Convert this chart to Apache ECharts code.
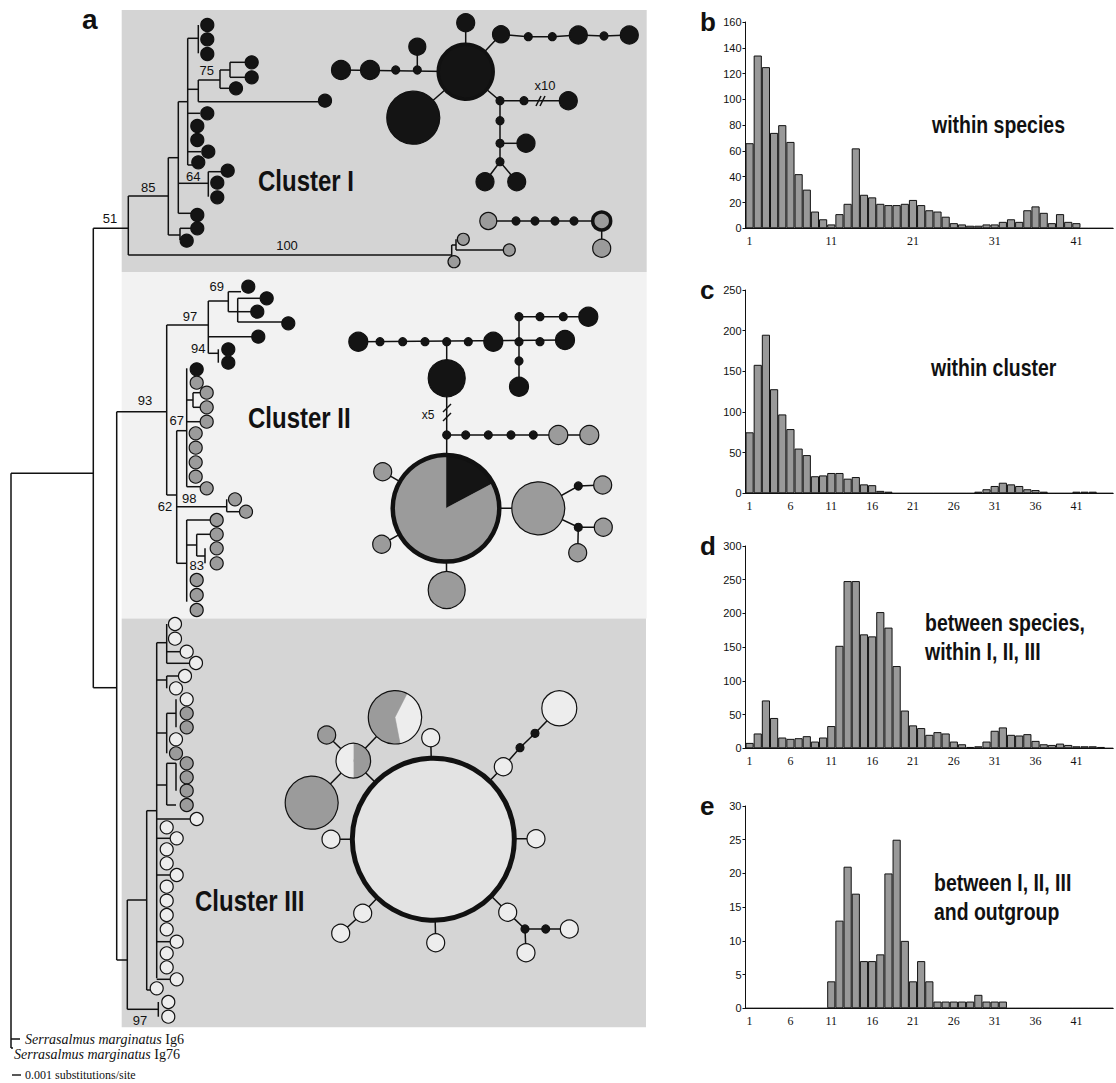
<!DOCTYPE html>
<html><head><meta charset="utf-8">
<script src="https://cdn.jsdelivr.net/npm/echarts@6/dist/echarts.min.js"></script>
<style>html,body{margin:0;padding:0;background:#fff}#c{width:1116px;height:1083px}</style>
</head><body><div id="c"></div>
<script>
// ---------- histogram data ----------
const categories = ['1','2','3','4','5','6','7','8','9','10','11','12','13','14','15','16','17','18','19','20','21','22','23','24','25','26','27','28','29','30','31','32','33','34','35','36','37','38','39','40','41','42','43','44','45'];
const withinSpecies  = [66,134,125,74,80,67,42,30,13,7,3,11,19,62,26,24,19,18,18,19,22,18,14,13,9,4,3,2,2,3,3,5,7,5,14,17,12,4,11,5,4,0,0,0,0];
const withinCluster  = [75,158,195,128,97,79,55,47,21,22,25,25,18,20,11,10,3,2,0,0,0,0,0,0,0,0,0,0,2,5,9,13,11,9,5,4,2,0,0,0,2,2,2,0,0];
const betweenSpecies = [8,22,71,45,16,14,15,18,10,16,33,152,248,248,169,166,202,179,122,56,34,30,20,24,22,10,6,2,3,10,26,31,20,19,21,11,6,5,7,5,3,3,3,2,0];
const betweenOutgroup= [0,0,0,0,0,0,0,0,0,0,4,13,21,17,7,7,8,20,25,10,4,7,4,1,1,1,1,1,2,1,1,1,0,0,0,0,0,0,0,0,0,0,0,0,0];
const yMax  = [160,250,300,30];
const yStep = [20,50,50,5];
const xLabelEvery = [10,5,5,5];
const panelLetters = ['b','c','d','e'];
const captions = [['within species'],['within cluster'],['between species,','within I, II, III'],['between I, II, III','and outgroup']];

// ---------- tree (diagram units) ----------
const treeSegments = [
 [11,473.3,93.3,473.3],[11,473.3,11,1048],[11,1039,20,1039],[11,1048,13,1048],
 [93.3,228.3,93.3,687.7],[93.3,228.3,128.3,228.3],[93.3,687.7,116.7,687.7],
 [128.3,196,128.3,255],[128.3,196,168.3,196],[128.3,255,451.7,255],
 [168.3,157.7,168.3,235],[168.3,157.7,178.3,157.7],[178.3,101.7,178.3,213.3],[178.3,101.7,187.7,101.7],
 [187.7,38.3,187.7,165],[187.7,38.3,198.3,38.3],[198.3,25,198.3,53.3],
 [187.7,89.3,198.3,89.3],[198.3,80,198.3,101.7],[198.3,80,220,80],[220,70,220,88.3],[220,70,230,70],
 [230,62.3,230,77.3],[230,62.3,246,62.3],[230,77.3,246,77.3],[220,88.3,230,88.3],[198.3,101.7,318,101.7],
 [187.7,113.3,200,113.3],[187.7,151.7,201,151.7],[187.7,165,192,165],
 [178.3,183.3,208.3,183.3],[208.3,171.7,208.3,196.7],[208.3,171.7,221,171.7],
 [178.3,213.3,191,213.3],[168.3,235,180,235],[180,228.3,180,240],[180,228.3,191,228.3],
 [451.7,245,451.7,261.7],[451.7,245,456,245],[456,239.3,456,250],[456,250,503,250],
 [116.7,411.7,116.7,960],[116.7,411.7,166.7,411.7],[166.7,325,166.7,495],[166.7,325,208.3,325],
 [208.3,301,208.3,353.3],[208.3,301,228.3,301],[228.3,291.7,228.3,311.7],[228.3,291.7,241,291.7],
 [228.3,311.7,237.7,311.7],[237.7,298.3,237.7,322],[237.7,298.3,260,298.3],[237.7,311.7,251,311.7],[237.7,322,282,322],
 [208.3,336.7,252,336.7],[208.3,353.3,218.3,353.3],[218.3,349.3,218.3,362.7],
 [166.7,495,176.7,495],[176.7,430.7,176.7,563.3],[176.7,430.7,186.7,430.7],[186.7,368.3,186.7,486.7],
 [186.7,400,193,400],[193,392.7,193,407.3],[193,392.7,200,392.7],[193,407.3,200,407.3],
 [186.7,421.7,200,421.7],[186.7,486.7,200,486.7],
 [176.7,506.7,226.7,506.7],[226.7,499.3,226.7,511.7],[226.7,511.7,240,511.7],
 [176.7,563.3,186.7,563.3],[186.7,520,186.7,601.7],[186.7,520,210,520],[186.7,545,196.7,545],
 [196.7,534.3,196.7,556],[196.7,534.3,210,534.3],[196.7,556,205,556],[205,548.3,205,563.3],
 [116.7,960,127.3,960],[127.3,900,127.3,1009.3],[127.3,900,146.7,900],[127.3,1009.3,158.3,1009.3],
 [158.3,1002,158.3,1016.7],[146.7,810.7,146.7,990],[146.7,990,150,990],[146.7,810.7,156.7,810.7],
 [156.7,642.7,156.7,978.3],[156.7,642.7,166.7,642.7],[166.7,624,166.7,663.3],[166.7,651.7,180,651.7],[166.7,663.3,190,663.3],
 [156.7,680,166.7,680],[166.7,676,166.7,688.3],[166.7,676,178,676],
 [156.7,733,166.7,733],[166.7,713.3,166.7,753.3],[166.7,713.3,176,713.3],[176,699.3,176,727.3],
 [156.7,785,166.7,785],[166.7,763.3,166.7,805],[166.7,763.3,176,763.3],[166.7,805,176,805],[176,763.3,176,790.7],
 [156.7,819,190,819],[156.7,838.3,170,838.3],[156.7,875,170,875],[156.7,941.7,170,941.7],[156.7,979.3,170,979.3]
];
const treeTips = [
 [207.3,25,'k'],[207.3,39.3,'k'],[207.3,54,'k'],[251.7,62.3,'k'],[251.7,77.3,'k'],[236,88.3,'k'],[325,100.7,'k'],
 [207.3,113.3,'k'],[197.3,126,'k'],[197.3,140,'k'],[208.3,151.7,'k'],[198.3,162.3,'k'],
 [227.7,170.7,'k'],[217.3,182.7,'k'],[217.3,197.3,'k'],[197.3,215,'k'],[197.3,228.3,'k'],[186.7,240.7,'k'],
 [463.3,239.3,'g'],[454,261.7,'g'],[509.3,250,'g'],
 [248.3,286.7,'k'],[266.7,298.3,'k'],[257.3,311.7,'k'],[288.3,323.3,'k'],[258.3,336.7,'k'],[228.3,349.3,'k'],[228.3,362.7,'k'],[196.7,369.3,'k'],
 [196.7,382.7,'g'],[206.7,392.7,'g'],[206.7,407.3,'g'],[206.7,421.7,'g'],[195.7,433.3,'g'],[195.7,447.7,'g'],[195.7,462.3,'g'],[195.7,476.7,'g'],
 [206.7,488.3,'g'],[235,499.3,'g'],[246,511.7,'g'],[216.7,520,'g'],[216.7,534.3,'g'],[216.7,548.3,'g'],[216.7,563.3,'g'],
 [196.7,580,'g'],[196.7,595,'g'],[196.7,610,'g'],
 [175,624,'w'],[175,638.7,'w'],[186.7,651.7,'w'],[196,663,'w'],[185,676,'w'],[176,688.3,'w'],[186.7,699.3,'w'],
 [186.7,713.3,'g'],[186.7,727.3,'g'],[176,739.3,'w'],[176,753.3,'g'],[186.7,763.3,'g'],[186.7,777.3,'g'],[186.7,790.7,'g'],[186.7,805,'g'],
 [196.7,819,'w'],[166.7,827.3,'w'],[176.7,838.3,'w'],[166.7,849.3,'w'],[166.7,863.3,'w'],[176.7,875,'w'],[166.7,886.7,'w'],
 [166.7,900.7,'w'],[166.7,915,'w'],[166.7,929.3,'w'],[176.7,941.7,'w'],[166.7,953.3,'w'],[166.7,967.3,'w'],[176.7,979.3,'w'],
 [156.7,988.3,'w'],[168.3,1002,'w'],[168.3,1016.7,'w']
];
const supportLabels = ['51','85','75','64','100','69','97','94','93','67','98','62','83','97'];
const supportPos = [[110,218.3],[148.3,187.3],[206.7,70],[193.3,176.7],[287,245.7],[216.7,286.7],[190,316],[198.3,348.3],[145,400.7],[176.7,420.7],[189.3,498.3],[165,506.7],[196.7,565],[140,1020]];

// ---------- haplotype networks ----------
const netEdges = [
 [465.7,71.7,465.7,22.7],[465.7,71.7,501,34.3,528.3,36.7,552.3,36.7,578.3,35,604,36,629.3,35],
 [341,70,465.7,71.7],[417.3,70,417.3,46.7],[465.7,71.7,413.3,117.7],[465.7,71.7,500,100.7,568.3,100.7],
 [500,100.7,500,161.7],[500,143.3,526,143.3],[485,181.7,500,161.7,516.7,181.7],[488.3,221,601.7,221,601.7,248.3],
 [536,106,541,96],[540,106,545,96],
 [358.3,341.7,565,340],[519,316.7,519,386.7],[519,316.7,588.3,316.7],[446.7,341.7,446.7,378.3],[446.7,378.3,446.7,508.3],
 [446.7,435,589.3,435],[443,412,451,404],[443,421,451,413],
 [446,508.3,382.7,471.7],[446,508.3,381.7,544.3],[446,508.3,446.7,590],[446,508.3,538.3,508.3],
 [538.3,508.3,578.3,486,602.7,485],[538.3,508.3,578.3,527.3,603.3,527.3],[578.3,527.3,577.7,552.7],
 [433.3,839.3,430.7,737.7],[433.3,839.3,331,839.3],[433.3,839.3,536,838.7],[433.3,839.3,435.7,942.7],
 [433.3,839.3,362.7,913.3,340.7,933.3],[433.3,839.3,507.7,912.3,525,929,569.3,929],[525,929,526,952.7],
 [433.3,839.3,503.3,766.7,520,747.7,535,733.3,559.3,708.3],[433.3,839.3,353.3,760.7],
 [353.3,760.7,326.7,735],[353.3,760.7,311.7,802.7],[353.3,760.7,395,717.3]
];
const netNodes = [
 [465.7,22.7,18,'k'],[501,34.3,17,'k'],[528.3,36.7,8,'k'],[552.3,36.7,8,'k'],[578.3,35,18,'k'],[604,36,8,'k'],[629.3,35,18,'k'],
 [341,70,19,'k'],[370,70,19,'k'],[395.7,70,8,'k'],[417.3,70,8,'k'],[417.3,46.7,17,'k'],
 [413.3,117.7,53,'k'],[465.7,71.7,55,'k',3.5],
 [500,100.7,8,'k'],[524,100.7,8,'k'],[568.3,100.7,18,'k'],[500,120.7,8,'k'],[500,143.3,8,'k'],[526,143.3,18,'k'],
 [500,161.7,8,'k'],[485,181.7,18,'k'],[516.7,181.7,18,'k'],
 [488.3,221,17,'g'],[516,221,8,'k'],[535,221,8,'k'],[555,221,8,'k'],[574,221,8,'k'],[601.7,221,18,'g',3.5],[601.7,248.3,18,'g'],
 [358.3,341.7,19,'k'],[380,341.7,8,'k'],[402.7,341.7,8,'k'],[425,341.7,8,'k'],[446.7,341.7,8,'k'],[468.3,341.7,8,'k'],
 [493.3,341.7,19,'k'],[519,341.7,8,'k'],[540,341.7,8,'k'],[565,340,19,'k'],
 [519,316.7,8,'k'],[540,316.7,8,'k'],[563.3,316.7,8,'k'],[588.3,316.7,19,'k'],[519,361,8,'k'],[519,386.7,19,'k'],
 [446.7,378.3,37,'k'],
 [446.7,435,8,'k'],[465.7,435,8,'k'],[488.3,435,8,'k'],[511,435,8,'k'],[533.3,435,8,'k'],[558.3,435,19,'g'],[589.3,435,19,'g'],
 [382.7,471.7,18,'g'],[381.7,544.3,18,'g'],[446.7,590,37,'g'],[538.3,508.3,53,'g'],
 [578.3,486,8,'k'],[578.3,527.3,8,'k'],[602.7,485,18,'g'],[603.3,527.3,18,'g'],[577.7,552.7,18,'g'],
 [433.3,839.3,162,'w',5],
 [430.7,737.7,18,'w'],[331,839.3,18,'w'],[536,838.7,18,'w'],[435.7,942.7,18,'w'],[362.7,913.3,18,'w'],[340.7,933.3,18,'w'],
 [507.7,912.3,18,'w'],[525,929,8,'k'],[545.7,929,8,'k'],[569.3,929,18,'w'],[526,952.7,18,'w'],
 [503.3,766.7,18,'w'],[520,747.7,8,'k'],[535,733.3,8,'k'],[559.3,708.3,35,'w'],
 [326.7,735,18,'g'],[311.7,802.7,53,'g']
];
// pies: centre x, y, radius, border, slices [fromDeg, toDeg (clockwise), colourCode]
const netPies = [
 [446,508.3,53.3,4.5,[[90,28,'k'],[28,-270,'g']]],
 [353.3,760.7,17.3,1.2,[[90,-90,'g'],[-90,-270,'w']]],
 [395,717.3,26.7,1.2,[[63,-79,'w'],[-79,-297,'g']]]
];
const clusterNames = ['Cluster I','Cluster II','Cluster III'];
const clusterNamePos = [[258,181],[248,418],[195,901]];
const clusterPanels = [[121.7,10,646.7,272,'#d4d4d4'],[121.7,272,646.7,618.5,'#f2f2f2'],[121.7,618.5,646,1027.3,'#d5d5d5']];

const FILL = {k:'#141414', g:'#9b9b9b', w:'#ededed'};

// ---------- fonts ----------
const ctx = document.createElement('canvas').getContext('2d');
function hasFont(name){
  const s = 'within species WWW iii 0123 Cluster';
  ctx.font = '40px monospace'; const a = ctx.measureText(s).width;
  ctx.font = '40px "' + name + '", monospace'; const b = ctx.measureText(s).width;
  return Math.abs(a-b) > 0.5;
}
const NARROW_OK = hasFont('Liberation Sans Narrow');
const NARROW = NARROW_OK ? 'Liberation Sans Narrow' : 'Liberation Sans';
function textW(text, family, size){
  ctx.font = 'bold ' + size + 'px "' + family + '"';
  return ctx.measureText(text).width;
}
const capSize = 23, clusterSize = 30;
const capScale = Math.min(1, 133 / textW('within species', NARROW, capSize));
const clusterScale = Math.min(1, 96 / textW('Cluster I', NARROW, clusterSize));
const SANS = 'Liberation Sans';
const SERIF = 'Liberation Serif';

// ---------- build ----------
const chart = echarts.init(document.getElementById('c'), null, {renderer:'svg', width:1116, height:1083});

const histTop = [22, 290, 546, 806];
const histH   = [206.3, 203.3, 202.3, 202.3];
const HL = 745.5, HW = 367.65;

const grids = [{left:0, top:0, width:650, height:1083}];
const xAxes = [{gridIndex:0, type:'value', min:0, max:650, show:false}];
const yAxes = [{gridIndex:0, type:'value', min:0, max:1083, inverse:true, show:false}];
const histData = [withinSpecies, withinCluster, betweenSpecies, betweenOutgroup];
const series = [];
const graphics = [];

for (let i=0;i<4;i++){
  grids.push({left:HL, top:histTop[i], width:HW, height:histH[i]});
  xAxes.push({gridIndex:i+1, type:'category', data:categories, boundaryGap:true,
    axisLine:{lineStyle:{color:'#111', width:1}},
    axisTick:{interval:0, length:4, lineStyle:{color:'#111', width:1}},
    axisLabel:{interval:xLabelEvery[i]-1, color:'#111', fontFamily:SERIF, fontSize:12, margin:7}});
  yAxes.push({gridIndex:i+1, type:'value', min:0, max:yMax[i], interval:yStep[i],
    axisLine:{show:true, lineStyle:{color:'#111', width:1}},
    axisTick:{show:true, length:3, lineStyle:{color:'#111'}},
    splitLine:{show:false},
    axisLabel:{color:'#111', fontFamily:SANS, fontSize:11, margin:4}});
  series.push({type:'bar', xAxisIndex:i+1, yAxisIndex:i+1, data:histData[i], barCategoryGap:'0%', silent:true,
    itemStyle:{color:'#999999', borderColor:'#111', borderWidth:1, opacity:1}});
}

series.push({type:'custom', xAxisIndex:0, yAxisIndex:0, silent:true, z:0,
  data: clusterPanels.map(p=>[p[0],p[1]]),
  renderItem:(params, api)=>{
    const p = clusterPanels[params.dataIndex];
    const a = api.coord([p[0],p[1]]), b = api.coord([p[2],p[3]]);
    return {type:'rect', shape:{x:a[0], y:a[1], width:b[0]-a[0], height:b[1]-a[1]}, style:{fill:p[4]}};
  }});
series.push({type:'lines', coordinateSystem:'cartesian2d', xAxisIndex:0, yAxisIndex:0, polyline:true, silent:true, z:2,
  lineStyle:{color:'#111', width:1.5, opacity:1},
  data: treeSegments.map(s=>({coords:[[s[0],s[1]],[s[2],s[3]]]}))});
series.push({type:'lines', coordinateSystem:'cartesian2d', xAxisIndex:0, yAxisIndex:0, polyline:true, silent:true, z:2,
  lineStyle:{color:'#111', width:1.5, opacity:1},
  data: netEdges.map(s=>{const c=[]; for(let j=0;j<s.length;j+=2) c.push([s[j],s[j+1]]); return {coords:c};})});
series.push({type:'scatter', xAxisIndex:0, yAxisIndex:0, silent:true, z:3, symbol:'circle',
  data: treeTips.map(t=>({value:[t[0],t[1]], symbolSize: t[2]==='g' && t[1]<270 ? 12 : 13,
    itemStyle:{color:FILL[t[2]], borderColor:'#111', borderWidth:1.2, opacity:1}}))});
series.push({type:'scatter', xAxisIndex:0, yAxisIndex:0, silent:true, z:3, symbol:'circle',
  data: netNodes.map(n=>({value:[n[0],n[1]], symbolSize:n[2],
    itemStyle:{color: n[3]==='w' && n[2]>100 ? '#e3e3e3' : FILL[n[3]], borderColor:'#111', borderWidth: n[4]||1.2, opacity:1}}))});
series.push({type:'custom', xAxisIndex:0, yAxisIndex:0, silent:true, z:4,
  data: netPies.map(p=>[p[0],p[1]]),
  renderItem:(params, api)=>{
    const p = netPies[params.dataIndex];
    const c = api.coord([p[0],p[1]]);
    const r = api.size([p[2],0])[0];
    const ch = p[4].map(s=>({type:'sector', shape:{cx:c[0], cy:c[1], r:r, r0:0,
        startAngle:-s[0]*Math.PI/180, endAngle:-s[1]*Math.PI/180, clockwise:true},
        style:{fill:FILL[s[2]], stroke:FILL[s[2]], lineWidth:0.5}}));
    ch.push({type:'circle', shape:{cx:c[0], cy:c[1], r:r}, style:{fill:'none', stroke:'#111', lineWidth:p[3]}});
    return {type:'group', children:ch};
  }});
const textItems = [];
supportLabels.forEach((t,i)=>textItems.push([supportPos[i][0], supportPos[i][1], t, SANS, 13, 'normal', 'center', 1]));
clusterNames.forEach((t,i)=>textItems.push([clusterNamePos[i][0], clusterNamePos[i][1], t, NARROW, clusterSize, 'bold', 'left', clusterScale]));
textItems.push([545,85,'x10',SANS,13,'normal','center',1]);
textItems.push([428,415,'x5',SANS,12,'normal','center',1]);
series.push({type:'custom', xAxisIndex:0, yAxisIndex:0, silent:true, z:5,
  data: textItems.map(t=>[t[0],t[1]]),
  renderItem:(params, api)=>{
    const t = textItems[params.dataIndex];
    const c = api.coord([t[0],t[1]]);
    return {type:'text', x:c[0], y:c[1], scaleX:t[7], scaleY:1,
      style:{text:t[2], fontFamily:t[3], fontSize:t[4], fontWeight:t[5], fill:'#111', align:t[6], verticalAlign:'middle'}};
  }});

graphics.push({type:'text', x:82, y:19, style:{text:'a', fontFamily:SANS, fontSize:28, fontWeight:'bold', fill:'#111', verticalAlign:'middle'}});
const letterX = 700;
panelLetters.forEach((l,i)=>{
  graphics.push({type:'text', x:letterX, y:histTop[i], style:{text:l, fontFamily:SANS, fontSize:26, fontWeight:'bold', fill:'#111', verticalAlign:'middle'}});
});
const capPos = [[932,125],[931,368],[925,623],[934,883]];
captions.forEach((lines,i)=>{
  lines.forEach((ln,j)=>{
    graphics.push({type:'text', x:capPos[i][0], y:capPos[i][1]+j*29, scaleX:capScale, scaleY:1,
      style:{text:ln, fontFamily:NARROW, fontSize:capSize, fontWeight:'bold', fill:'#111', verticalAlign:'middle', align:'left'}});
  });
});
graphics.push({type:'text', x:25, y:1039, style:{text:'{i|Serrasalmus marginatus} Ig6', fontFamily:SERIF, fontSize:14, fill:'#111', verticalAlign:'middle', rich:{i:{fontStyle:'italic', fontFamily:SERIF, fontSize:14}}}});
graphics.push({type:'text', x:14, y:1054, style:{text:'{i|Serrasalmus marginatus} Ig76', fontFamily:SERIF, fontSize:14, fill:'#111', verticalAlign:'middle', rich:{i:{fontStyle:'italic', fontFamily:SERIF, fontSize:14}}}});
graphics.push({type:'line', shape:{x1:12, y1:1075, x2:21, y2:1075}, style:{stroke:'#111', lineWidth:1.4}});
graphics.push({type:'text', x:25, y:1075, style:{text:'0.001 substitutions/site', fontFamily:SERIF, fontSize:12, fill:'#111', verticalAlign:'middle'}});

chart.setOption({animation:false, backgroundColor:'#fff', grid:grids, xAxis:xAxes, yAxis:yAxes, series:series, graphic:graphics});
</script></body></html>
